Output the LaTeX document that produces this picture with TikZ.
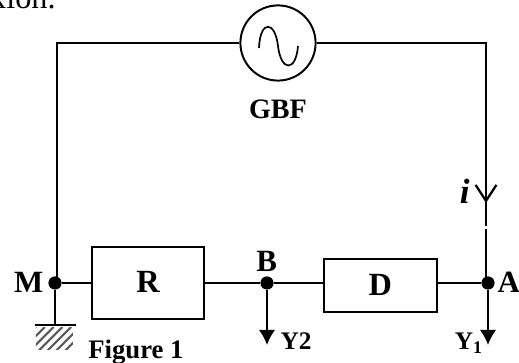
\documentclass[tikz,border=0pt]{standalone}
\usepackage{fontspec}
\setmainfont{Liberation Serif}
\usetikzlibrary{arrows.meta}
\tikzset{
	wire/.style={line width=1.6pt},
	dipole/.style={draw,line width=1.3pt,inner sep=0pt},
	junction/.style={circle,fill=black,inner sep=0pt,minimum size=0.33cm},
	lbl/.style={inner sep=0pt,font=\fontsize{22}{24}\selectfont\bfseries},
	probe/.style={-{Latex[length=0.38cm,width=0.42cm]},line width=1.7pt}
}
\begin{document}
\begin{tikzpicture}
			\useasboundingbox (0,0) rectangle (12.975,9.075);

			\node[inner sep=0pt,anchor=base east,font=\fontsize{23}{25}\selectfont] (prev) at (1.4,8.85) {xion.};

			\node[draw,circle,line width=1.4pt,minimum size=1.88cm,inner sep=0pt] (gbf) at (6.95,8) {};
			\node[lbl,font=\fontsize{20}{22}\selectfont\bfseries] (gbflabel) at (6.95,6.35) {GBF};

			\coordinate (tl) at (1.425,8);
			\coordinate (tr) at (12.15,8);
			\coordinate (ml) at (1.425,2);
			\coordinate (al) at (12.15,2);
			\coordinate (itip) at (12.15,4);
			\coordinate (gapa) at (12.15,3.43);
			\coordinate (gapb) at (12.15,3.36);
			\coordinate (gnd) at (1.375,0.95);
			\coordinate (gndl) at (0.875,0.95);
			\coordinate (gndr) at (1.9,0.95);
			\coordinate (y2) at (6.675,0.45);
			\coordinate (y1) at (12.2,0.45);

			\node[junction] (m) at (1.375,2) {};
			\node[junction] (b) at (6.675,2) {};
			\node[junction] (a) at (12.2,2) {};

			\node[dipole,minimum width=2.8cm,minimum height=1.8cm,font=\fontsize{23}{25}\selectfont\bfseries] (r) at (3.7,2) {\raisebox{1.5pt}{R}};
			\node[dipole,minimum width=2.82cm,minimum height=1.32cm,font=\fontsize{23}{25}\selectfont\bfseries] (d) at (9.51,1.94) {\raisebox{-3pt}{D}};

			\node[lbl] (mlabel) at (0.72,2.02) {M};
			\node[lbl] (blabel) at (6.67,2.55) {B};
			\node[lbl] (alabel) at (12.72,2.02) {A};
			\node[lbl,font=\fontsize{25}{27}\selectfont\bfseries] (ilabel) at (11.62,4.3) {\itshape i};
			\node[lbl,font=\fontsize{18}{20}\selectfont\bfseries] (y2label) at (7.4,0.55) {Y2};
			\node[lbl,font=\fontsize{18}{20}\selectfont\bfseries] (y1label) at (11.72,0.5) {Y\textsubscript{1}};
			\node[lbl,font=\fontsize{19}{21}\selectfont\bfseries] (figlabel) at (3.4,0.27) {Figure 1};

			\draw[wire] (gbf.west) -- (tl) -- (ml);
			\draw[wire] (gbf.east) -- (tr) -- (gapa);
			\draw[wire] (gapb) -- (al);
			\draw[wire,-{Straight Barb[length=0.4cm,width=0.52cm]}] (tr) -- (itip);

			\draw[wire] (m) -- (r);
			\draw[wire] (r) -- (b);
			\draw[wire] (b) -- (b -| d.west);
			\draw[wire] (a -| d.east) -- (a);

			\draw[probe] (b) -- (y2);
			\draw[probe] (a) -- (y1);

			\draw[wire] (m) -- (gnd);
			\draw[line width=0.9pt] (gndl) -- (gndr);

			\begin{scope}
				\clip (0.9,0.325) rectangle (1.825,0.875);
				\foreach \x in {0.3,0.52,...,1.9}
					\draw[line width=1.5pt,black!65] (\x,0.3) -- (\x+0.6,0.9);
			\end{scope}

			\draw[line width=1.2pt] (6.475,7.875) .. controls (6.5,8.575) and (6.875,8.575) .. (6.95,7.925)
				.. controls (7.025,7.275) and (7.4,7.275) .. (7.45,7.925);
\end{tikzpicture}
\end{document}
